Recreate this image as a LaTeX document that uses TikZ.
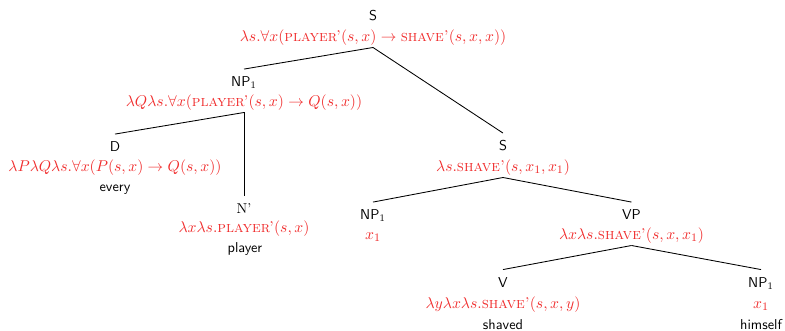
\documentclass[tikz,border=0pt]{standalone}
\usepackage{amsmath}
\definecolor{semred}{RGB}{240,45,45}
\newcommand{\pred}[1]{\text{\textsc{#1}}}
\begin{document}
\begin{tikzpicture}[x=0.7pt,y=-0.7pt,
  cat/.style={font=\sffamily, text height=7pt, text depth=0pt, inner xsep=1pt, inner ysep=5pt, anchor=base},
  sem/.style={text=semred, font=\fontsize{10.9pt}{13pt}\selectfont, text depth=2.7pt, inner xsep=1pt, inner ysep=1.3pt, anchor=base},
  word/.style={font=\sffamily, inner sep=1pt, anchor=base},
  branch/.style={draw=black, line width=0.6pt}]
\useasboundingbox (0,0) rectangle (785,331);

% root S
\node[cat] (s-cat) at (373,21) {S};
\node[sem] (s-sem) at (373,41.5) {$\lambda s.\forall x(\pred{player'}(s,x)\rightarrow\pred{shave'}(s,x,x))$};

% subject NP
\node[cat] (np-cat) at (244,86.5) {NP$_1$};
\node[sem] (np-sem) at (244,106.5) {$\lambda Q\lambda s.\forall x(\pred{player'}(s,x)\rightarrow Q(s,x))$};

% determiner
\node[cat] (d-cat) at (115,151.5) {D};
\node[sem] (d-sem) at (115,171.5) {$\lambda P\lambda Q\lambda s.\forall x(P(s,x)\rightarrow Q(s,x))$};
\node[word] (d-word) at (115,191) {every};

% noun
\node[cat, font=\rmfamily] (n-cat) at (244,213.5) {N'};
\node[sem] (n-sem) at (244,232) {$\lambda x\lambda s.\pred{player'}(s,x)$};
\node[word] (n-word) at (245,252) {player};

% embedded S
\node[cat] (s2-cat) at (503,150.5) {S};
\node[sem] (s2-sem) at (503,171.5) {$\lambda s.\pred{shave'}(s,x_1,x_1)$};

% trace NP
\node[cat] (t-cat) at (373,219.5) {NP$_1$};
\node[sem] (t-sem) at (373,239) {$x_1$};

% VP
\node[cat] (vp-cat) at (631.5,219.5) {VP};
\node[sem] (vp-sem) at (631.5,239.5) {$\lambda x\lambda s.\pred{shave'}(s,x,x_1)$};

% verb
\node[cat] (v-cat) at (503,287) {V};
\node[sem] (v-sem) at (503,308.5) {$\lambda y\lambda x\lambda s.\pred{shave'}(s,x,y)$};
\node[word] (v-word) at (503,329.5) {shaved};

% reflexive
\node[cat] (r-cat) at (761,287) {NP$_1$};
\node[sem] (r-sem) at (761,308.5) {$x_1$};
\node[word] (r-word) at (761,329.5) {himself};

% branches
\draw[branch] (s-sem.south) -- (np-cat.north);
\draw[branch] (s-sem.south) -- (s2-cat.north);
\draw[branch] (np-sem.south) -- (d-cat.north);
\draw[branch] (np-sem.south) -- (n-cat.north);
\draw[branch] (s2-sem.south) -- (t-cat.north);
\draw[branch] (s2-sem.south) -- (vp-cat.north);
\draw[branch] (vp-sem.south) -- (v-cat.north);
\draw[branch] (vp-sem.south) -- (r-cat.north);
\end{tikzpicture}
\end{document}
